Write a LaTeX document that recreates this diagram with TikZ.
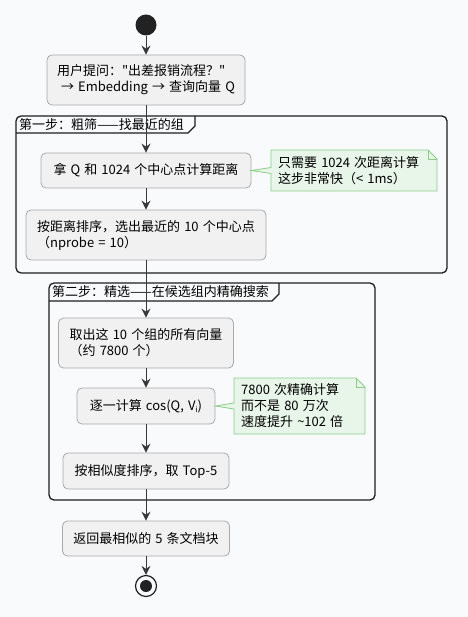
\documentclass[tikz,border=0pt]{standalone}
\usepackage{fontspec}
\newfontfamily\cjkfont{Noto Sans CJK SC}[WordSpace=1.4]
\usetikzlibrary{arrows.meta,positioning}
\definecolor{page-bg}{RGB}{249,250,251}
\definecolor{box-fill}{RGB}{241,241,241}
\definecolor{box-line}{RGB}{170,170,170}
\definecolor{flow-line}{RGB}{56,56,56}
\definecolor{frame-line}{RGB}{30,30,30}
\definecolor{note-fill}{RGB}{232,245,233}
\definecolor{note-line}{RGB}{140,205,140}
\definecolor{dot-black}{RGB}{34,34,34}
\newcommand{\subidx}[1]{\raisebox{-2.5pt}{\fontsize{8}{8}\selectfont #1}}

\begin{document}
\begin{tikzpicture}[x=1pt,y=-1pt,
        every node/.style={font=\cjkfont\fontsize{13}{16}\selectfont},
        act/.style={draw=box-line,fill=box-fill,rounded corners=5pt,inner sep=0pt,align=left,line width=0.8pt},
        flow/.style={draw=flow-line,line width=0.9pt,-{Stealth[length=9pt,width=9pt,inset=3pt]}},
        group/.style={draw=frame-line,line width=1.3pt,rounded corners=5pt},
        tab/.style={draw=frame-line,line width=1.1pt},
        note/.style={draw=note-line,fill=note-fill,line width=0.8pt},
        txt/.style={anchor=west,inner sep=0pt,align=left}
        ]
    \useasboundingbox (0,0) rectangle (467,617);
    \fill[page-bg] (0,0) rectangle (467,617);
    %
    % groups
    \draw[group] (16,116) rectangle (447,273);
    \draw[tab] (16,133) -- (188,133) -- (195,126) -- (195,116);
    \node[txt] (step1) at (19,124.5) {第一步：粗筛——找最近的组};
    \draw[group] (49,283) rectangle (375,500);
    \draw[tab] (49,301) -- (272,301) -- (279,294) -- (279,283);
    \node[txt] (step2) at (52,292) {第二步：精选——在候选组内精确搜索};
    %
    % activities
    \node[circle,fill=dot-black,minimum size=21pt,inner sep=0pt] (start) at (146,25) {};
    \node[act,minimum width=198pt,minimum height=50pt] (query) at (146,80)
        {用户提问："出差报销流程？"\\\hspace*{4pt}→ Embedding → 查询向量 Q};
    \node[act,minimum width=210pt,minimum height=35pt] (dist) at (146,170.5)
        {拿 Q 和 1024 个中心点计算距离};
    \node[act,minimum width=240pt,minimum height=50pt] (pick) at (146,235)
        {按距离排序，选出最近的 10 个中心点\\（nprobe = 10）};
    \node[act,minimum width=175pt,minimum height=50pt] (fetch) at (146,343)
        {取出这 10 个组的所有向量\\（约 7800 个）};
    \node[act,minimum width=138pt,minimum height=36pt] (cosine) at (146,406)
        {逐一计算 cos(Q, V\subidx{i})};
    \node[act,minimum width=166pt,minimum height=36pt] (rank) at (146,471)
        {按相似度排序，取 Top-5};
    \node[act,minimum width=167pt,minimum height=35pt] (result) at (146,538.5)
        {返回最相似的 5 条文档块};
    \node[circle,draw=dot-black,line width=1.2pt,fill=page-bg,minimum size=21pt,inner sep=0pt] (stop) at (146,586) {};
    \fill[dot-black] (stop.center) circle [radius=6];
    %
    % notes
    \draw[note] (271,150) -- (428,150) -- (437,159) -- (437,191) -- (271,191)
        -- (271,173.5) -- (dist.east) -- (271,167.5) -- cycle;
    \draw[note-line,line width=0.8pt] (428,150) -- (428,159) -- (437,159);
    \node[txt] (note1) at (278,171) {只需要 1024 次距离计算\\这步非常快（< 1ms）};
    \draw[note] (234,378) -- (356,378) -- (365,387) -- (365,434) -- (234,434)
        -- (234,409) -- (cosine.east) -- (234,403) -- cycle;
    \draw[note-line,line width=0.8pt] (356,378) -- (356,387) -- (365,387);
    \node[txt] (note2) at (241,406) {7800 次精确计算\\而不是 80 万次\\速度提升 \char"007E 102 倍};
    %
    % flow
    \draw[flow] (start) -- (query);
    \draw[flow] (query) -- (dist);
    \draw[flow] (dist) -- (pick);
    \draw[flow] (pick) -- (fetch);
    \draw[flow] (fetch) -- (cosine);
    \draw[flow] (cosine) -- (rank);
    \draw[flow] (rank) -- (result);
    \draw[flow] (result) -- (stop);
\end{tikzpicture}
\end{document}
